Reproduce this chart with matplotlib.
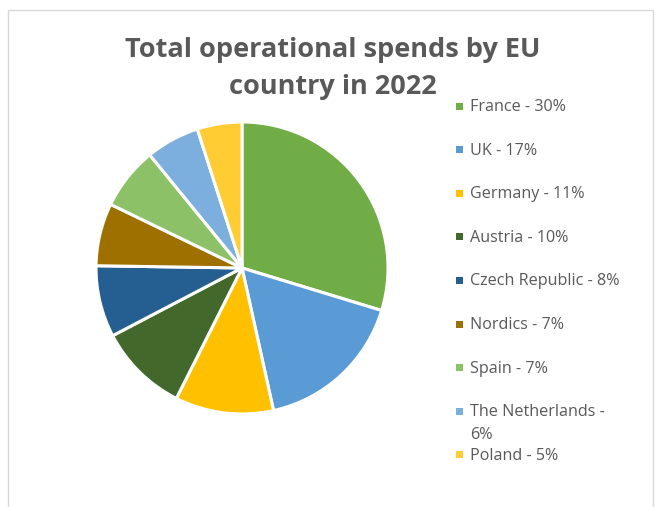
import matplotlib
matplotlib.use("Agg")
import matplotlib.pyplot as plt
from matplotlib.patches import Rectangle

countries = ["France", "UK", "Germany", "Austria", "Czech Republic", "Nordics",
             "Spain", "The Netherlands", "Poland"]
shares = [30, 17, 11, 10, 8, 7, 7, 6, 5]
legend_labels = ["France - 30%", "UK - 17%", "Germany - 11%", "Austria - 10%",
                 "Czech Republic - 8%", "Nordics - 7%", "Spain - 7%",
                 "The Netherlands -\n6%", "Poland - 5%"]
colors = ["#70AD47", "#5B9BD5", "#FFC000", "#43682B", "#255E91", "#9E7000",
          "#8CC168", "#7CAFDD", "#FFCD33"]
title = "Total operational spends by EU\ncountry in 2022"

W, H = 656, 507
fig = plt.figure(figsize=(W / 100, H / 100), dpi=100)
fig.patch.set_facecolor("white")

# chart-area border (bottom edge lies outside the image)
fig.add_artist(Rectangle((7.5 / W, -0.05), (653 - 7.5) / W, 1.05 - 10 / H,
                         transform=fig.transFigure, fill=False,
                         edgecolor="#D9D9D9", linewidth=1.0))

# pie
cx, cy, r = 242, 268, 146
ax = fig.add_axes([(cx - r) / W, 1 - (cy + r) / H, 2 * r / W, 2 * r / H])
ax.pie(shares, colors=colors, startangle=90, counterclock=False,
       wedgeprops=dict(edgecolor="white", linewidth=2.2), radius=1.0)
ax.set_xlim(-1.0, 1.0)
ax.set_ylim(-1.0, 1.0)
ax.set_aspect("equal")
ax.axis("off")

# title
fig.text(333 / W, 1 - 68.5 / H, title, ha="center", va="center",
         fontsize=19.5, fontweight="bold", color="#595959",
         family="Open Sans", linespacing=1.55)

# legend
y0, step = 106, 43.6
for i, (lab, col) in enumerate(zip(legend_labels, colors)):
    y = y0 + i * step
    fig.add_artist(Rectangle((456 / W, 1 - (y + 3.5) / H), 7 / W, 7 / H,
                             transform=fig.transFigure, facecolor=col,
                             edgecolor="none"))
    fig.text(470 / W, 1 - (y - 7) / H, lab, ha="left", va="top",
             fontsize=11.6, color="#595959", family="Open Sans",
             linespacing=1.55)

fig.savefig("out.png", dpi=100)
